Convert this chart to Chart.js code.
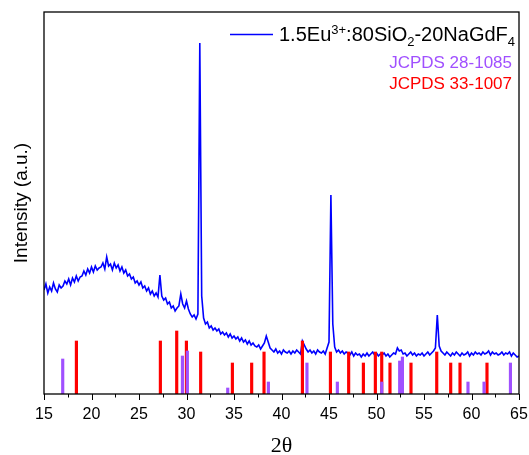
<!DOCTYPE html>
<html>
<head>
<meta charset="utf-8">
<script src="https://cdn.jsdelivr.net/npm/chart.js@4.4.0/dist/chart.umd.min.js"></script>
<style>
  body { margin: 0; background: #fff; }
  canvas { display: block; }
</style>
</head>
<body>
<canvas id="xrdChart" width="529" height="455"></canvas>
<script>
// measured pattern, 2theta from 15 to 65 with a 0.2 degree step
const angleStart = 15
const angleStep = 0.2
const intensity = [
  104,110,101,107,103,111,105,102,109,106,
  108,113,110,115,109,116,112,118,113,117,
  118,123,119,125,121,127,122,128,124,126,
  127,131,125,137,128,130,124,131,126,129,
  123,127,121,124,118,120,115,117,111,113,
  109,112,106,108,103,106,100,103,98,101,
  97,119,98,94,96,90,92,86,88,83,
  86,88,100,90,86,93,85,80,77,79,
  75,80,351,98,76,70,72,66,68,64,
  66,63,65,60,62,59,61,57,60,56,
  58,55,57,53,56,52,54,50,53,49,
  51,48,47,49,45,48,51,58,52,46,
  44,42,45,41,43,40,44,42,41,43,
  40,43,41,44,42,40,53,49,45,42,
  44,41,43,40,44,42,41,43,40,46,
  52,199,70,47,42,44,41,43,40,42,
  41,39,42,38,41,39,40,37,40,38,
  41,38,40,42,39,41,38,40,39,41,
  38,40,37,39,41,40,46,43,44,40,
  41,38,40,42,39,41,38,40,39,41,
  38,40,42,39,41,43,46,79,48,43,
  41,39,42,40,38,41,39,42,40,38,
  41,39,40,42,38,41,39,42,40,41,
  39,42,40,41,43,39,42,40,41,39,
  40,42,39,41,40,42,38,41,39,37,
  38
]

// reference cards
const jcpds28Pos = [16.97, 29.57, 30.09, 34.34, 38.62, 42.68, 45.88, 50.55, 52.44, 52.73, 59.63, 61.32, 64.1]
const jcpds28Int = [35, 38, 43, 6, 12, 31, 12, 12, 33, 37, 12, 12, 31]
const jcpds33Pos = [18.41, 27.25, 28.97, 29.99, 31.49, 34.83, 36.86, 38.16, 42.2, 45.15, 47.07, 48.62, 49.88, 50.55, 51.42, 53.63, 56.34, 57.81, 58.79, 61.63]
const jcpds33Int = [53, 53, 63, 53, 42, 31, 31, 42, 53, 42, 42, 31, 42, 42, 31, 31, 42, 31, 31, 31]

const xTicks = [15, 20, 25, 30, 35, 40, 45, 50, 55, 60, 65]

const purple = 'rgb(160,80,255)'
const red = '#ff0000'
const blue = '#0000ff'

const lineData = intensity.map((v, i) => ({x: +(angleStart + i * angleStep).toFixed(1), y: v}))
const card28 = jcpds28Pos.map((p, i) => ({x: p, y: jcpds28Int[i]}))
const card33 = jcpds33Pos.map((p, i) => ({x: p, y: jcpds33Int[i]}))

const framePlugin = {
  id: 'frame',
  afterDraw(chart) {
    const ctx = chart.ctx
    const a = chart.chartArea
    const xs = chart.scales.x
    ctx.save()
    ctx.strokeStyle = '#000'
    ctx.lineWidth = 1.3
    ctx.strokeRect(a.left, a.top, a.right - a.left, a.bottom - a.top)
    ctx.lineWidth = 1
    xTicks.forEach((t, i) => {
      const px = Math.round(xs.getPixelForValue(t)) + 0.5
      ctx.beginPath(); ctx.moveTo(px, a.bottom); ctx.lineTo(px, a.bottom + 6); ctx.stroke()
      if (i < xTicks.length - 1) {
        const mx = Math.round(xs.getPixelForValue(t + 2.5)) + 0.5
        ctx.beginPath(); ctx.moveTo(mx, a.bottom); ctx.lineTo(mx, a.bottom + 3.5); ctx.stroke()
      }
    })

    // legend
    ctx.strokeStyle = blue
    ctx.lineWidth = 1.3
    ctx.beginPath(); ctx.moveTo(230, 34.5); ctx.lineTo(273, 34.5); ctx.stroke()
    const parts = [
      {t: '1.5Eu'}, {t: '3+', s: -7}, {t: ':80SiO'}, {t: '2', s: 5},
      {t: '-20NaGdF'}, {t: '4', s: 5}
    ]
    let x = 279
    ctx.fillStyle = '#000'
    ctx.textBaseline = 'alphabetic'
    parts.forEach(p => {
      ctx.font = p.s ? '13px Arial' : '20px Arial'
      ctx.fillText(p.t, x, 40.5 + (p.s || 0))
      x += ctx.measureText(p.t).width
    })
    ctx.font = '17px Arial'
    ctx.textAlign = 'right'
    ctx.fillStyle = purple
    ctx.fillText('JCPDS 28-1085', 512, 68)
    ctx.fillStyle = red
    ctx.fillText('JCPDS 33-1007', 512, 88.5)
    ctx.restore()
  }
}

new Chart(document.getElementById('xrdChart'), {
  type: 'line',
  data: {
    datasets: [
      {type: 'bar', label: 'JCPDS 28-1085', data: card28, backgroundColor: purple, barThickness: 2.5, grouped: false, order: 0},
      {type: 'bar', label: 'JCPDS 33-1007', data: card33, backgroundColor: red, barThickness: 2.5, grouped: false, order: 1},
      {type: 'line', label: '1.5Eu3+:80SiO2-20NaGdF4', data: lineData, borderColor: blue, borderWidth: 1.6, pointRadius: 0, tension: 0, order: 2}
    ]
  },
  options: {
    responsive: false,
    animation: false,
    devicePixelRatio: 1,
    layout: {padding: {top: 12, right: 10, left: 0, bottom: 0}},
    plugins: {legend: {display: false}, tooltip: {enabled: false}},
    scales: {
      x: {
        type: 'linear', min: 15, max: 65, offset: false,
        grid: {display: false, drawTicks: false},
        border: {display: false},
        ticks: {stepSize: 5, padding: 11, color: '#000', font: {family: 'Arial', size: 16}, maxRotation: 0},
        title: {display: true, text: '2θ', color: '#000', font: {family: 'Liberation Serif', size: 22}, padding: {top: 0, bottom: -4}},
        afterFit: s => { s.height = 61; s.paddingLeft = 0; s.paddingRight = 0 }
      },
      y: {
        min: 0, max: 382,
        grid: {display: false, drawTicks: false},
        border: {display: false},
        ticks: {display: false},
        title: {display: true, text: 'Intensity (a.u.)', color: '#000', font: {family: 'Arial', size: 19}, padding: {top: 10}},
        afterFit: s => { s.width = 44 }
      }
    }
  },
  plugins: [framePlugin]
})
</script>
</body>
</html>
